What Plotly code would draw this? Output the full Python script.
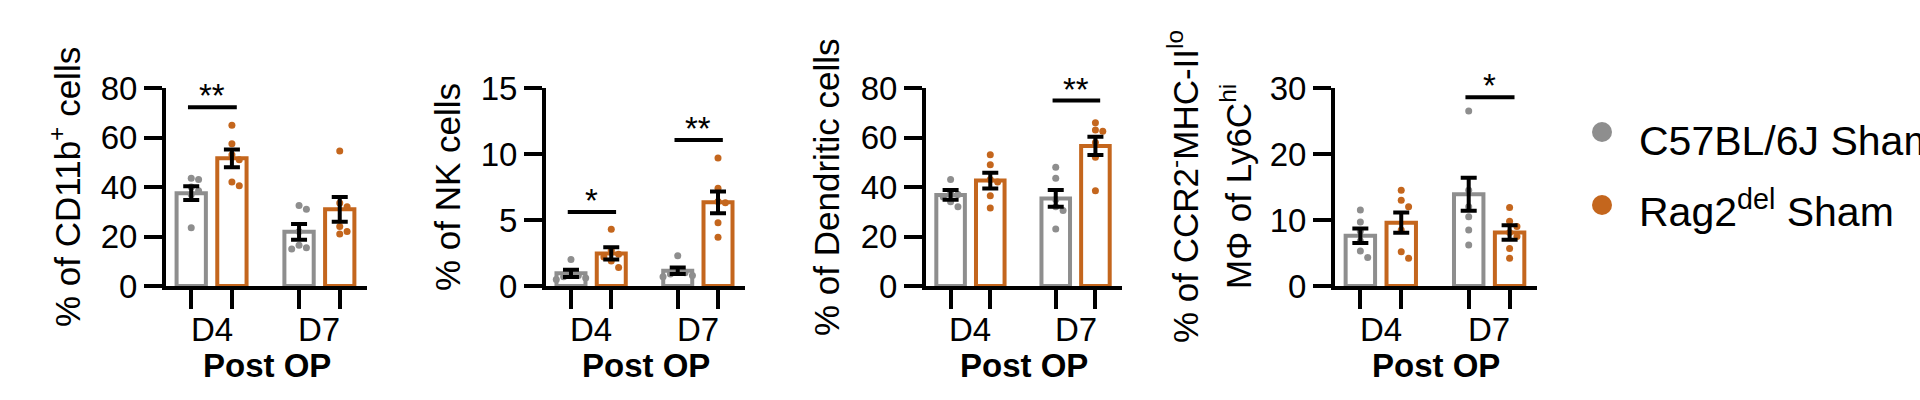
import plotly.graph_objects as go

W, H = 1920, 400
FONT = "Liberation Sans, Arial, sans-serif"

groups = ["D4", "D7"]
series_names = ["C57BL/6J Sham", "Rag2<sup>del</sup> Sham"]
series_colors = ["#8e8e8e", "#c4661d"]

panel_titles = [
    ["% of CD11b<sup>+</sup> cells"],
    ["% of NK cells"],
    ["% of Dendritic cells"],
    ["% of CCR2<sup>-</sup>MHC-II<sup>lo</sup>", "MΦ of Ly6C<sup>hi</sup>"],
]
y_max = [80, 15, 80, 30]
y_dtick = [20, 5, 20, 10]

# CD11b+ cells
cd11b_mean_wt = [37.5, 21.9]
cd11b_sem_wt = [2.8, 3.2]
cd11b_mean_rag = [51.6, 31.0]
cd11b_sem_rag = [3.6, 5.0]
cd11b_dots_wt = [[43.5, 43, 40, 38.5, 37, 23.5], [32.5, 31, 22, 16.5, 15.5, 15]]
cd11b_dots_rag = [[65, 57.5, 53, 51, 42, 40.5], [54.5, 33.5, 32, 24, 22, 21]]

# NK cells
nk_mean_wt = [0.96, 1.16]
nk_sem_wt = [0.28, 0.25]
nk_mean_rag = [2.47, 6.34]
nk_sem_rag = [0.47, 0.82]
nk_dots_wt = [[2.0, 1.0, 0.8, 0.7, 0.6, 0.5], [2.3, 1.2, 1.0, 0.9, 0.8, 0.7]]
nk_dots_rag = [[4.3, 2.7, 2.4, 2.2, 1.9, 1.4], [9.7, 7.4, 6.4, 6.3, 4.8, 3.7]]

# Dendritic cells
dc_mean_wt = [36.8, 35.4]
dc_sem_wt = [2.0, 3.4]
dc_mean_rag = [42.6, 56.6]
dc_sem_rag = [3.2, 3.7]
dc_dots_wt = [[43, 38, 37, 36, 34, 32], [48, 43.5, 35, 32, 30.5, 23]]
dc_dots_rag = [[53, 49, 43, 42, 36.5, 31.5], [66, 63, 62.5, 58, 52, 38.5]]

# CCR2- MHC-II lo macrophages
mac_mean_wt = [7.6, 13.9]
mac_sem_wt = [1.1, 2.5]
mac_mean_rag = [9.6, 8.1]
mac_sem_rag = [1.55, 1.1]
mac_dots_wt = [[11.5, 9.7, 8.3, 6.8, 5.3, 4.3], [26.5, 14.5, 12, 10.5, 8.5, 6.2]]
mac_dots_rag = [[14.5, 13, 12, 8.5, 5.2, 4.2], [11.9, 9.8, 9.0, 8.1, 7.5, 5.7, 4.2]]

# significance bars: (group index, y level, label)
cd11b_sig = [(0, 72.2, "**")]
nk_sig = [(0, 5.6, "*"), (1, 11.06, "**")]
dc_sig = [(1, 74.9, "**")]
mac_sig = [(1, 28.6, "*")]

panels = [
    dict(means=[cd11b_mean_wt, cd11b_mean_rag], sems=[cd11b_sem_wt, cd11b_sem_rag],
         dots=[cd11b_dots_wt, cd11b_dots_rag], sig=cd11b_sig),
    dict(means=[nk_mean_wt, nk_mean_rag], sems=[nk_sem_wt, nk_sem_rag],
         dots=[nk_dots_wt, nk_dots_rag], sig=nk_sig),
    dict(means=[dc_mean_wt, dc_mean_rag], sems=[dc_sem_wt, dc_sem_rag],
         dots=[dc_dots_wt, dc_dots_rag], sig=dc_sig),
    dict(means=[mac_mean_wt, mac_mean_rag], sems=[mac_sem_wt, mac_sem_rag],
         dots=[mac_dots_wt, mac_dots_rag], sig=mac_sig),
]

# layout in pixels
x_px = [(166, 367), (546, 745), (926, 1122), (1335, 1537)]
title_px = [[65], [447], [826], [1183, 1236]]
y_top, y_bot = 88, 286
GROUP_GAP = 2.65
X_RANGE = [-0.62, 4.32]
BAR_W = 0.72
DOT = 7


def xpos(g, s):
    return g * GROUP_GAP + s


def swarm(values, ppx, ppy, d=DOT):
    # simple beeswarm offsets (in x units) so dots don't overlap
    placed = []
    res = [0.0] * len(values)
    for i in sorted(range(len(values)), key=lambda k: -values[k]):
        yp = values[i] * ppy
        for k in [0, 1, -1, 2, -2, 3, -3]:
            xp = k * d * 1.05
            if all((xp - a) ** 2 + (yp - b) ** 2 >= d * d for a, b in placed):
                break
        placed.append((xp, yp))
        res[i] = xp / ppx
    return res


fig = go.Figure()
annotations = []
ydom = [1 - y_bot / H, 1 - y_top / H]

for i, p in enumerate(panels):
    n = "" if i == 0 else str(i + 1)
    xa, ya = "x" + n, "y" + n
    x0, x1 = x_px[i]
    ppx = (x1 - x0) / (X_RANGE[1] - X_RANGE[0])
    ppy = (y_bot - y_top) / y_max[i]

    for s in range(2):
        fig.add_trace(go.Bar(
            x=[xpos(g, s) for g in range(len(groups))], y=p["means"][s], width=BAR_W,
            marker=dict(color="white", line=dict(color=series_colors[s], width=4)),
            name=series_names[s], xaxis=xa, yaxis=ya, showlegend=False,
        ))
    for s in range(2):
        xs, ys = [], []
        for g in range(len(groups)):
            vals = p["dots"][s][g]
            offs = swarm(vals, ppx, ppy)
            xs += [xpos(g, s) + o for o in offs]
            ys += vals
        fig.add_trace(go.Scatter(
            x=xs, y=ys, mode="markers", marker=dict(color=series_colors[s], size=DOT),
            xaxis=xa, yaxis=ya, showlegend=False, cliponaxis=False,
        ))
    ex, ey, es = [], [], []
    for s in range(2):
        for g in range(len(groups)):
            ex.append(xpos(g, s))
            ey.append(p["means"][s][g])
            es.append(p["sems"][s][g])
    fig.add_trace(go.Scatter(
        x=ex, y=ey, mode="markers", marker=dict(color="rgba(0,0,0,0)", size=1),
        error_y=dict(type="data", array=es, color="black", thickness=4, width=8),
        xaxis=xa, yaxis=ya, showlegend=False,
    ))
    for g, yv, label in p["sig"]:
        fig.add_trace(go.Scatter(
            x=[xpos(g, 0) - 0.08, xpos(g, 1) + 0.12], y=[yv, yv], mode="lines",
            line=dict(color="black", width=4), xaxis=xa, yaxis=ya,
            showlegend=False, cliponaxis=False,
        ))
        annotations.append(dict(
            x=xpos(g, 0.5), y=yv, xref=xa, yref=ya, text=label, showarrow=False,
            yanchor="bottom", yshift=-9, font=dict(size=33, color="black", family=FONT),
        ))

    for g, lab in enumerate(groups):
        annotations.append(dict(
            x=xpos(g, 0.5), y=1 - 329 / H, xref=xa, yref="paper", text=lab,
            showarrow=False, yanchor="middle", font=dict(size=33, color="black", family=FONT),
        ))
    annotations.append(dict(
        x=0.5, y=1 - 365 / H, xref=xa + " domain", yref="paper", text="<b>Post OP</b>",
        showarrow=False, yanchor="middle", font=dict(size=33, color="black", family=FONT),
    ))
    for line, tx in zip(panel_titles[i], title_px[i]):
        annotations.append(dict(
            x=tx / W, y=1 - 187 / H, xref="paper", yref="paper", text=line, textangle=-90,
            showarrow=False, xanchor="center", yanchor="middle",
            font=dict(size=35, color="black", family=FONT),
        ))

    axis_common = dict(showline=True, linewidth=4, linecolor="black", ticks="outside",
                       tickwidth=4, tickcolor="black", showgrid=False, zeroline=False,
                       fixedrange=True)
    fig.update_layout(**{
        "xaxis" + n: dict(domain=[x0 / W, x1 / W], range=X_RANGE, anchor=ya,
                          tickvals=[xpos(g, s) for g in range(2) for s in range(2)],
                          showticklabels=False, ticklen=19, **axis_common),
        "yaxis" + n: dict(domain=ydom, range=[0, y_max[i]], dtick=y_dtick[i], anchor=xa,
                          ticklen=18, tickfont=dict(size=33, color="black", family=FONT),
                          **axis_common),
    })

# legend drawn by hand to sit like the original
legend_px = [(1602, 132, 141), (1602, 205, 209)]
shapes = []
for s, (cx, cy, ty) in enumerate(legend_px):
    shapes.append(dict(type="circle", xref="paper", yref="paper",
                       x0=(cx - 10) / W, x1=(cx + 10) / W, y0=1 - (cy + 10) / H, y1=1 - (cy - 10) / H,
                       fillcolor=series_colors[s], line=dict(width=0)))
    annotations.append(dict(x=1637 / W, y=1 - ty / H, xref="paper", yref="paper",
                            text=series_names[s], showarrow=False, xanchor="left",
                            yanchor="middle", font=dict(size=41, color="black", family=FONT)))

fig.update_layout(
    width=W, height=H, margin=dict(l=0, r=0, t=0, b=0, autoexpand=False),
    template="none", paper_bgcolor="white", plot_bgcolor="white",
    barmode="overlay", showlegend=False, annotations=annotations, shapes=shapes,
    font=dict(family=FONT, color="black"),
)

# page body has a default 8px margin; drop it so the figure fills the window
fig.write_html("out.html", config={"displayModeBar": False},
               post_script="document.body.style.margin='0';")
